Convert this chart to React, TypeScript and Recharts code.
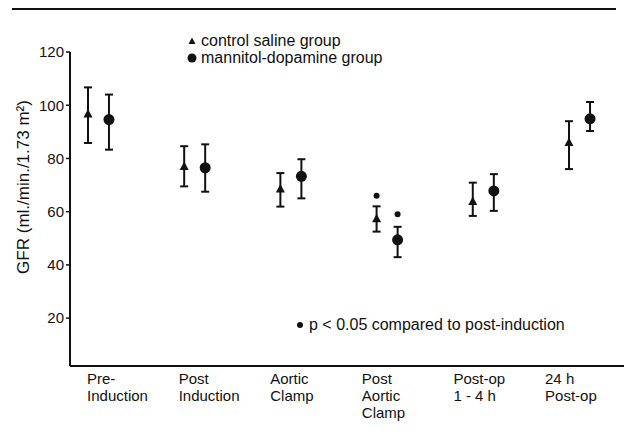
import React from "react";
import {
  ScatterChart,
  Scatter,
  XAxis,
  YAxis,
  ErrorBar,
  Legend,
} from "recharts";

// tick labels, one per stage
const stages = [
  "Pre-\nInduction",
  "Post\nInduction",
  "Aortic\nClamp",
  "Post\nAortic\nClamp",
  "Post-op\n1 - 4 h",
  "24 h\nPost-op",
];

// control saline group
const ctrlMean = [96.7, 77, 68.5, 57.3, 63.8, 86];
const ctrlHigh = [106.7, 84.6, 74.5, 62, 70.9, 94];
const ctrlLow = [85.8, 69.5, 61.9, 52.5, 58.4, 76];

// mannitol-dopamine group
const mannMean = [94.6, 76.5, 73.3, 49.4, 67.8, 94.9];
const mannHigh = [104, 85.3, 79.7, 54.3, 74.1, 101.2];
const mannLow = [83.3, 67.5, 65, 42.9, 60.3, 90.3];

// significance marks (p < 0.05)
const ctrlSig = [null, null, null, 66, null, null];
const mannSig = [null, null, null, 59, null, null];

const yTicks = [20, 40, 60, 80, 100, 120];

const INK = "#111";
const FONT = "'Liberation Sans', Arial, Helvetica, sans-serif";

const toRows = (mean: number[], low: number[], high: number[]) =>
  mean.map((m, i) => ({ x: i, y: m, err: [m - low[i], high[i] - m] }));

const toSig = (vals: (number | null)[]) =>
  vals
    .map((v, i) => ({ x: i, y: v }))
    .filter((d) => d.y !== null);

const ctrlRows = toRows(ctrlMean, ctrlLow, ctrlHigh);
const mannRows = toRows(mannMean, mannLow, mannHigh);

const Triangle = (props: any) => {
  const { cx, cy } = props;
  return (
    <polygon
      points={`${cx},${cy - 5} ${cx - 4.5},${cy + 3.5} ${cx + 4.5},${cy + 3.5}`}
      fill={INK}
    />
  );
};

const Dot = (props: any) => <circle cx={props.cx} cy={props.cy} r={5.5} fill={INK} />;

const Star = (props: any) => <circle cx={props.cx} cy={props.cy} r={3} fill={INK} />;

const StageTick = (props: any) => {
  const { x, y, payload } = props;
  const lines = stages[payload.value].split("\n");
  return (
    <text x={x} y={y} textAnchor="start" fontSize={15} fill={INK} fontFamily={FONT}>
      {lines.map((l, i) => (
        <tspan key={i} x={x} dy={i === 0 ? 16 : 17}>
          {l}
        </tspan>
      ))}
    </text>
  );
};

const LegendBox = () => (
  <div style={{ fontFamily: FONT, fontSize: 16, color: INK, lineHeight: "17px" }}>
    <div style={{ display: "flex", alignItems: "center" }}>
      <svg width={12} height={12}>
        <polygon points="6,2.5 2.5,9 9.5,9" fill={INK} />
      </svg>
      <span style={{ marginLeft: 3 }}>control saline group</span>
    </div>
    <div style={{ display: "flex", alignItems: "center" }}>
      <svg width={12} height={12}>
        <circle cx={6} cy={6} r={4.5} fill={INK} />
      </svg>
      <span style={{ marginLeft: 3 }}>mannitol-dopamine group</span>
    </div>
  </div>
);

export default function App() {
  return (
    <div
      style={{
        position: "absolute",
        left: 0,
        top: 0,
        width: 624,
        height: 437,
        background: "#fff",
        fontFamily: FONT,
      }}
    >
      <div
        style={{
          position: "absolute",
          left: 12,
          top: 8,
          width: 604,
          height: 2,
          background: INK,
        }}
      />
      <ScatterChart
        width={624}
        height={437}
        margin={{ top: 52, right: 0, bottom: 11, left: 4 }}
      >
        <XAxis
          xAxisId="lab"
          type="number"
          dataKey="x"
          domain={[-0.186, 5.862]}
          ticks={[0, 1, 2, 3, 4, 5]}
          allowDataOverflow
          height={60}
          tickLine={false}
          tickSize={0}
          tick={<StageTick />}
          axisLine={{ stroke: INK, strokeWidth: 2 }}
        />
        <XAxis
          xAxisId="ctrl"
          type="number"
          dataKey="x"
          domain={[-0.187, 5.572]}
          allowDataOverflow
          height={0}
          hide
        />
        <XAxis
          xAxisId="mann"
          type="number"
          dataKey="x"
          domain={[-0.405, 5.353]}
          allowDataOverflow
          height={0}
          hide
        />
        <YAxis
          type="number"
          dataKey="y"
          domain={[2, 120]}
          ticks={yTicks}
          allowDataOverflow
          width={66}
          tickSize={4}
          tickMargin={2}
          tickLine={{ stroke: INK, strokeWidth: 1.5 }}
          axisLine={{ stroke: INK, strokeWidth: 2 }}
          tick={{ fill: INK, fontSize: 15, fontFamily: FONT }}
          label={{
            value: "GFR (ml./min./1.73 m²)",
            angle: -90,
            position: "center",
            dx: -14,
            dy: -22,
            style: { fill: INK, fontSize: 17, fontFamily: FONT },
          }}
        />
        <Legend
          layout="vertical"
          align="center"
          verticalAlign="middle"
          content={<LegendBox />}
          wrapperStyle={{ top: 32, left: 186, width: 260 }}
        />
        <Scatter
          xAxisId="ctrl"
          data={ctrlRows}
          shape={<Triangle />}
          isAnimationActive={false}
        >
          <ErrorBar dataKey="err" direction="y" width={4} stroke={INK} strokeWidth={2} />
        </Scatter>
        <Scatter
          xAxisId="mann"
          data={mannRows}
          shape={<Dot />}
          isAnimationActive={false}
        >
          <ErrorBar dataKey="err" direction="y" width={4} stroke={INK} strokeWidth={2} />
        </Scatter>
        <Scatter xAxisId="ctrl" data={toSig(ctrlSig)} shape={<Star />} isAnimationActive={false} />
        <Scatter xAxisId="mann" data={toSig(mannSig)} shape={<Star />} isAnimationActive={false} />
        <Scatter xAxisId="lab" data={[]} isAnimationActive={false} />
      </ScatterChart>
      <div
        style={{
          position: "absolute",
          left: 297,
          top: 316,
          fontSize: 16,
          color: INK,
          display: "flex",
          alignItems: "center",
        }}
      >
        <span
          style={{
            display: "inline-block",
            width: 6,
            height: 6,
            borderRadius: 3,
            background: INK,
            marginRight: 6,
          }}
        />
        p &lt; 0.05 compared to post-induction
      </div>
    </div>
  );
}
